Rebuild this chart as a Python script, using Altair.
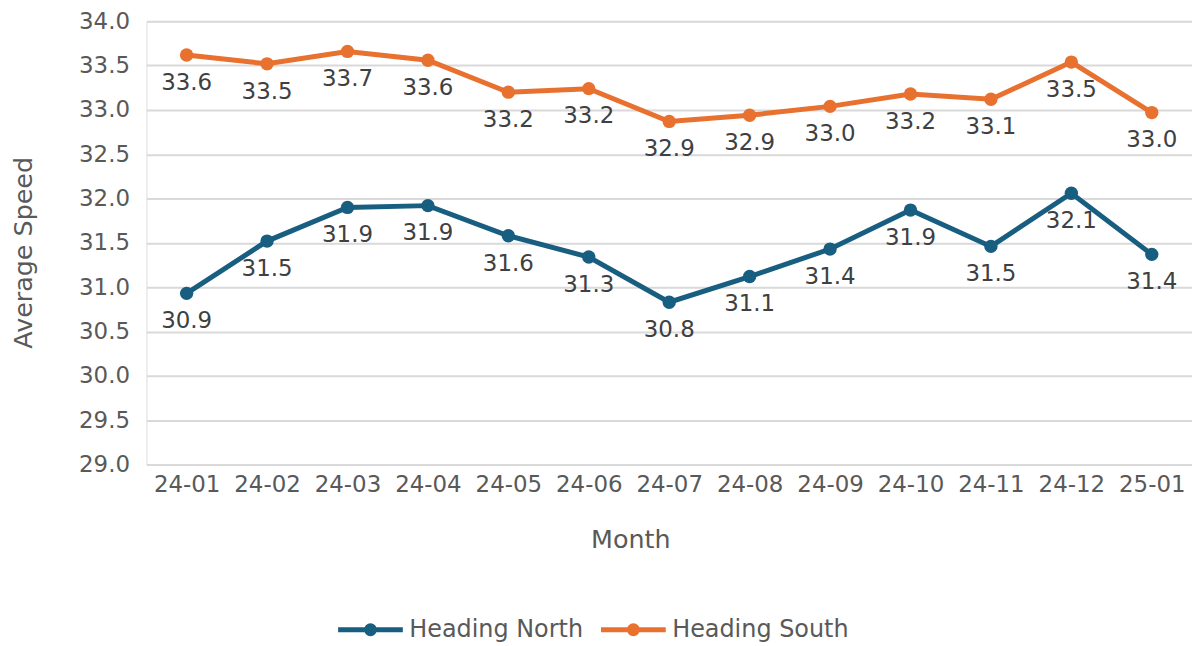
import altair as alt
import pandas as pd

months = ["24-01", "24-02", "24-03", "24-04", "24-05", "24-06", "24-07",
          "24-08", "24-09", "24-10", "24-11", "24-12", "25-01"]
north = [30.93, 31.52, 31.90, 31.92, 31.58, 31.34, 30.83, 31.12, 31.43, 31.87, 31.46, 32.06, 31.37]
south = [33.62, 33.52, 33.66, 33.56, 33.20, 33.24, 32.87, 32.94, 33.04, 33.18, 33.12, 33.54, 32.97]
series = ["Heading North", "Heading South"]
colors = ["#175e80", "#e8712f"]
y_ticks = [29.0, 29.5, 30.0, 30.5, 31.0, 31.5, 32.0, 32.5, 33.0, 33.5, 34.0]

rows = []
for m, v in zip(months, north):
    rows.append({"Month": m, "Speed": v, "Series": series[0]})
for m, v in zip(months, south):
    rows.append({"Month": m, "Speed": v, "Series": series[1]})
df = pd.DataFrame(rows)

FONT = "DejaVu Sans"
GREY = "#595959"

legend_symbol = "M-1,0H1M0.123,0A0.123,0.123 0 1 1 -0.123,0A0.123,0.123 0 1 1 0.123,0Z"

x_enc = alt.X("Month:N", sort=months, title="Month",
              scale=alt.Scale(paddingOuter=0.5, paddingInner=0),
              axis=alt.Axis(labelAngle=0, labelFontSize=23, labelColor=GREY, labelFont=FONT,
                            titleFontSize=25.5, titleColor=GREY, titleFont=FONT, titleFontWeight="normal",
                            grid=False, domain=False, ticks=False, labelPadding=9,
                            titleX=486, titleY=75, titleBaseline="middle"))
y_enc = alt.Y("Speed:Q", title="Average Speed",
              scale=alt.Scale(domain=[29, 34], nice=False, zero=False),
              axis=alt.Axis(values=y_ticks, format=".1f", labelFontSize=23, labelColor=GREY,
                            labelFont=FONT, titleFontSize=25.5, titleColor=GREY, titleFont=FONT,
                            titleFontWeight="normal", grid=True, gridColor="#d9d9d9",
                            gridWidth=2, domain=False, ticks=False, labelPadding=17,
                            titleX=-123, titleY=232, titleAngle=-90,
                            titleAlign="center", titleBaseline="middle"))
color_enc = alt.Color("Series:N", title=None,
                      scale=alt.Scale(domain=series, range=colors),
                      legend=alt.Legend(orient="none", direction="horizontal",
                                        legendX=190, legendY=576,
                                        symbolType=legend_symbol, symbolSize=4225,
                                        symbolStrokeWidth=5, labelFontSize=24,
                                        labelColor=GREY, labelFont=FONT, labelOffset=4,
                                        labelLimit=400,
                                        columnPadding=7, symbolOpacity=1))

base = alt.Chart(df).encode(x=x_enc, y=y_enc, color=color_enc)

lines = base.mark_line(strokeWidth=5)
points = base.mark_point(filled=True, size=180, opacity=1)
labels = base.mark_text(dy=28, fontSize=23, font=FONT, baseline="middle").encode(
    text=alt.Text("Speed:Q", format=".1f"),
    color=alt.value("#404040"))

chart = alt.layer(lines, points, labels).properties(
    width=1050, height=445,
    autosize=alt.AutoSizeParams(type="none"),
    padding={"left": 139, "top": 12, "right": 0, "bottom": 180},
).configure_view(stroke=None).configure(background="white")

chart.save("out.html", embed_options={"renderer": "svg", "actions": False})
